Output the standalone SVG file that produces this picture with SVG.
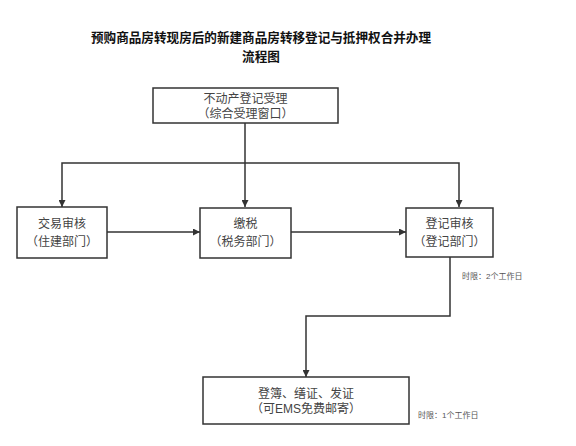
<svg xmlns="http://www.w3.org/2000/svg" width="576" height="446" viewBox="0 0 576 446">
<style>
.box{fill:#fff;stroke:#333;stroke-width:1.5}
.t{font-family:"Liberation Sans","Noto Sans CJK SC",sans-serif;font-size:12px;fill:#444;text-anchor:middle}
.title{font-family:"Noto Sans CJK SC",sans-serif;font-size:12.6px;font-weight:bold;fill:#111;text-anchor:middle}
.note{font-family:"Liberation Sans","Noto Sans CJK SC",sans-serif;font-size:8px;fill:#555}
.c{fill:none;stroke:#333;stroke-width:1.5}
</style>
<defs>
<marker id="ah" viewBox="0 0 10 10" refX="10" refY="5" markerWidth="7" markerHeight="7" markerUnits="userSpaceOnUse" orient="auto">
<path d="M0,0 L10,5 L0,10 z" fill="#333"/>
</marker>
</defs>
<rect width="576" height="446" fill="#fff"/>
<g id="title">
<text class="title" x="261" y="42">预购商品房转现房后的新建商品房转移登记与抵押权合并办理</text>
<text class="title" x="261" y="60.5">流程图</text>
</g>
<g id="connectors">
<path class="c" d="M245,123 V207" marker-end="url(#ah)"/>
<path class="c" d="M245,163 H62 V207" marker-end="url(#ah)"/>
<path class="c" d="M245,163 H459 V207" marker-end="url(#ah)"/>
<path class="c" d="M107,232 H200" marker-end="url(#ah)"/>
<path class="c" d="M291,232 H406" marker-end="url(#ah)"/>
<path class="c" d="M450,257 V316 H306 V377" marker-end="url(#ah)"/>
</g>
<g id="n1">
<rect class="box" x="153" y="88" width="185" height="35"/>
<text class="t" x="245.5" y="103">不动产登记受理</text>
<text class="t" x="245.5" y="118">（综合受理窗口）</text>
</g>
<g id="n2">
<rect class="box" x="17" y="207" width="90" height="51"/>
<text class="t" x="62" y="228">交易审核</text>
<text class="t" x="62" y="246">（住建部门）</text>
</g>
<g id="n3">
<rect class="box" x="200" y="208" width="91" height="50"/>
<text class="t" x="245.5" y="228">缴税</text>
<text class="t" x="245.5" y="246">（税务部门）</text>
</g>
<g id="n4">
<rect class="box" x="406" y="208" width="87" height="49"/>
<text class="t" x="449.5" y="228">登记审核</text>
<text class="t" x="449.5" y="246">（登记部门）</text>
</g>
<g id="n5">
<rect class="box" x="203" y="377" width="206" height="47"/>
<text class="t" x="306" y="398">登簿、缮证、发证</text>
<text class="t" x="306" y="413">（可EMS免费邮寄）</text>
</g>
<text class="note" x="462" y="279">时限：2个工作日</text>
<text class="note" x="418" y="418">时限：1个工作日</text>
</svg>
